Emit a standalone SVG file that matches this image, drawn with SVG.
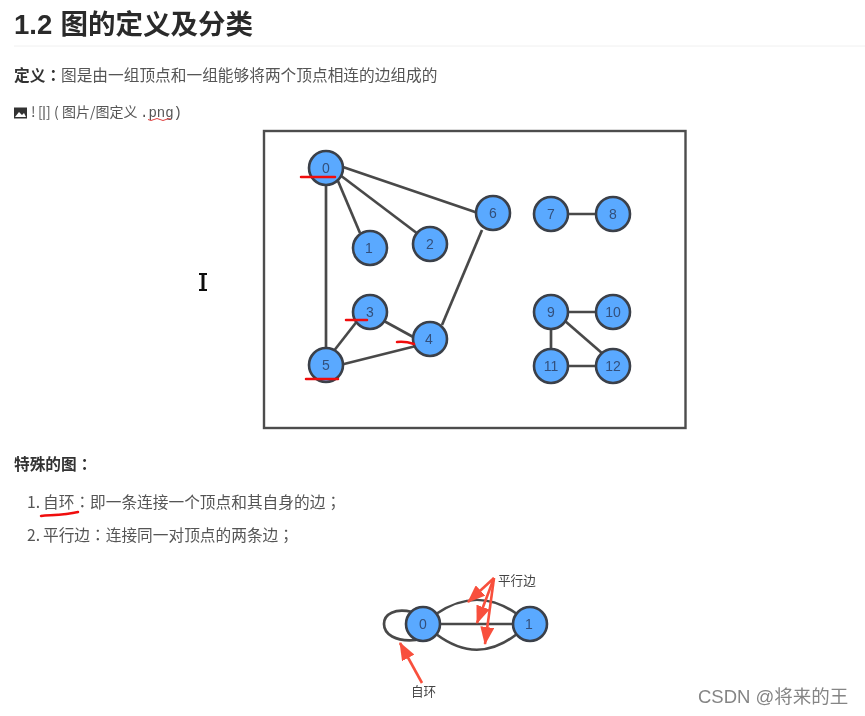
<svg xmlns="http://www.w3.org/2000/svg" width="865" height="716" viewBox="0 0 865 716">
<style>
text{font-family:"Noto Sans CJK SC","Noto Sans",sans-serif;fill:#333}
.h{font-size:27.500px;font-weight:700;fill:#2b2b2b;font-family:"Liberation Sans","Noto Sans CJK SC",sans-serif}
.b{font-size:15.700px;font-weight:700}
.t{font-size:15.700px;fill:#555}
.s{font-size:14px;fill:#555}
.m{font-family:"Liberation Mono",monospace;font-size:14px;fill:#555}
.p{font-family:"Noto Sans CJK TC",sans-serif}
.n circle{fill:#5aa9ff;stroke:#3a3f48;stroke-width:2.600}
.n text{font-family:"Liberation Sans",sans-serif;font-size:14px;fill:#33507c;text-anchor:middle}
.e line,.e path{stroke:#4a4a4a;stroke-width:2.700;fill:none}
.r{stroke:#f01010;stroke-width:2.500;fill:none;stroke-linecap:round}
.a{stroke:#f8503c;stroke-width:2.600;fill:none}
.l{font-size:12.600px;fill:#444}
</style>
<defs>
<marker id="ah" markerWidth="18" markerHeight="14" refX="17" refY="7" orient="auto" markerUnits="userSpaceOnUse"><path d="M0 0L18 7L0 14z" fill="#f8503c"/></marker>
<filter id="soft" x="0" y="0" width="100%" height="100%"><feGaussianBlur stdDeviation="0.350"/></filter>
</defs>
<rect width="865" height="716" fill="#fff"/>
<g filter="url(#soft)">
<text class="h" x="14" y="34">1.2<tspan x="60.500">图的定义及分类</tspan></text>
<line x1="14" y1="46" x2="865" y2="46" stroke="#f0f0f0" stroke-width="1"/>
<text x="14" y="81" class="b">定义<tspan class="p">：</tspan></text>
<text x="61" y="81" class="t">图是由一组顶点和一组能够将两个顶点相连的边组成的</text>
<path d="M14 107.500h13v11h-13z" fill="#333"/><path d="M15 117l4-5 3 3 2-2 2 4z" fill="#fff"/>
<text x="31" y="117" class="s">!</text><text x="38" y="117" class="s">[</text><text x="46" y="117" class="s">]</text>
<line x1="44" y1="106" x2="44" y2="120" stroke="#333"/>
<text x="54" y="117" class="s">(<tspan x="62">图片/图定义</tspan></text>
<text x="140" y="117" class="m">.png)</text>
<path d="M148 119.500q3 2 6-0t6 0t6 0t5 0" stroke="#e04040" stroke-width="1" fill="none"/>
<rect x="264" y="131" width="421.500" height="297" fill="#fff" stroke="#4d4d4d" stroke-width="2.400"/>
<g class="e" id="connectors">
<line x1="326" y1="168" x2="326" y2="365"/>
<line x1="338" y1="181" x2="360" y2="233"/>
<line x1="340" y1="175" x2="418" y2="234"/>
<line x1="340" y1="166" x2="478" y2="213"/>
<line x1="482" y1="230" x2="442" y2="325"/>
<line x1="384" y1="321" x2="415" y2="338"/>
<line x1="358" y1="320" x2="333" y2="352"/>
<line x1="340" y1="365" x2="416" y2="346"/>
<line x1="551" y1="214" x2="613" y2="214"/>
<line x1="551" y1="312" x2="613" y2="312"/>
<line x1="551" y1="312" x2="551" y2="366"/>
<line x1="565" y1="321" x2="603" y2="354"/>
<line x1="551" y1="366" x2="613" y2="366"/>
<path d="M412 612C395 608 384 614 384 624C384 634 395 642 416 640"/>
<line x1="423" y1="624" x2="530" y2="624"/>
<path d="M436 614C464 595 490 595 517 614"/>
<path d="M436 634C464 655 490 655 517 634"/>
</g>
<g class="n" id="n0"><circle cx="326" cy="168" r="17"/><text x="326" y="173">0</text></g>
<g class="n" id="n1"><circle cx="370" cy="248" r="17"/><text x="369" y="253">1</text></g>
<g class="n" id="n2"><circle cx="430" cy="244" r="17"/><text x="430" y="249">2</text></g>
<g class="n" id="n3"><circle cx="370" cy="312" r="17"/><text x="370" y="317">3</text></g>
<g class="n" id="n4"><circle cx="430" cy="339" r="17"/><text x="429" y="344">4</text></g>
<g class="n" id="n5"><circle cx="326" cy="365" r="17"/><text x="326" y="370">5</text></g>
<g class="n" id="n6"><circle cx="493" cy="213" r="17"/><text x="493" y="218">6</text></g>
<g class="n" id="n7"><circle cx="551" cy="214" r="17"/><text x="551" y="219">7</text></g>
<g class="n" id="n8"><circle cx="613" cy="214" r="17"/><text x="613" y="219">8</text></g>
<g class="n" id="n9"><circle cx="551" cy="312" r="17"/><text x="551" y="317">9</text></g>
<g class="n" id="n10"><circle cx="613" cy="312" r="17"/><text x="613" y="317">10</text></g>
<g class="n" id="n11"><circle cx="551" cy="366" r="17"/><text x="551" y="371">11</text></g>
<g class="n" id="n12"><circle cx="613" cy="366" r="17"/><text x="613" y="371">12</text></g>
<g class="n" id="p0"><circle cx="423" cy="624" r="17"/><text x="423" y="629">0</text></g>
<g class="n" id="p1"><circle cx="530" cy="624" r="17"/><text x="529" y="629">1</text></g>
<path class="r" d="M301 177H335"/><path class="r" d="M346 320H367"/><path class="r" d="M397 342Q405 341 414 344"/><path class="r" d="M306 379H338"/>
<path class="r" d="M41 516C52 515 65 515 78 512"/>
<text x="14" y="470" class="b">特殊的图<tspan class="p">：</tspan></text>
<text x="27" y="508" class="t">1.<tspan x="43">自环<tspan class="p">：</tspan>即一条连接一个顶点和其自身的边<tspan class="p">；</tspan></tspan></text>
<text x="27" y="541" class="t">2.<tspan x="43">平行边<tspan class="p">：</tspan>连接同一对顶点的两条边<tspan class="p">；</tspan></tspan></text>
<g id="arrows">
<line class="a" x1="494" y1="578" x2="468" y2="602" marker-end="url(#ah)"/>
<line class="a" x1="494" y1="578" x2="477" y2="623" marker-end="url(#ah)"/>
<line class="a" x1="494" y1="578" x2="485" y2="644" marker-end="url(#ah)"/>
<line class="a" x1="422" y1="683" x2="400" y2="643" marker-end="url(#ah)"/>
</g>
<text x="498" y="585" class="l">平行边</text>
<text x="411" y="696" class="l">自环</text>
<g id="cursor"><path d="M199 274h8M199 290h8" stroke="#111" stroke-width="2" fill="none"/><path d="M203 274v16" stroke="#111" stroke-width="3" fill="none"/></g>
<text x="698" y="703" style="fill:#858585;font-size:18.500px;font-family:'Liberation Sans','Noto Sans CJK SC',sans-serif">CSDN @将来的王</text>
</g>
</svg>
